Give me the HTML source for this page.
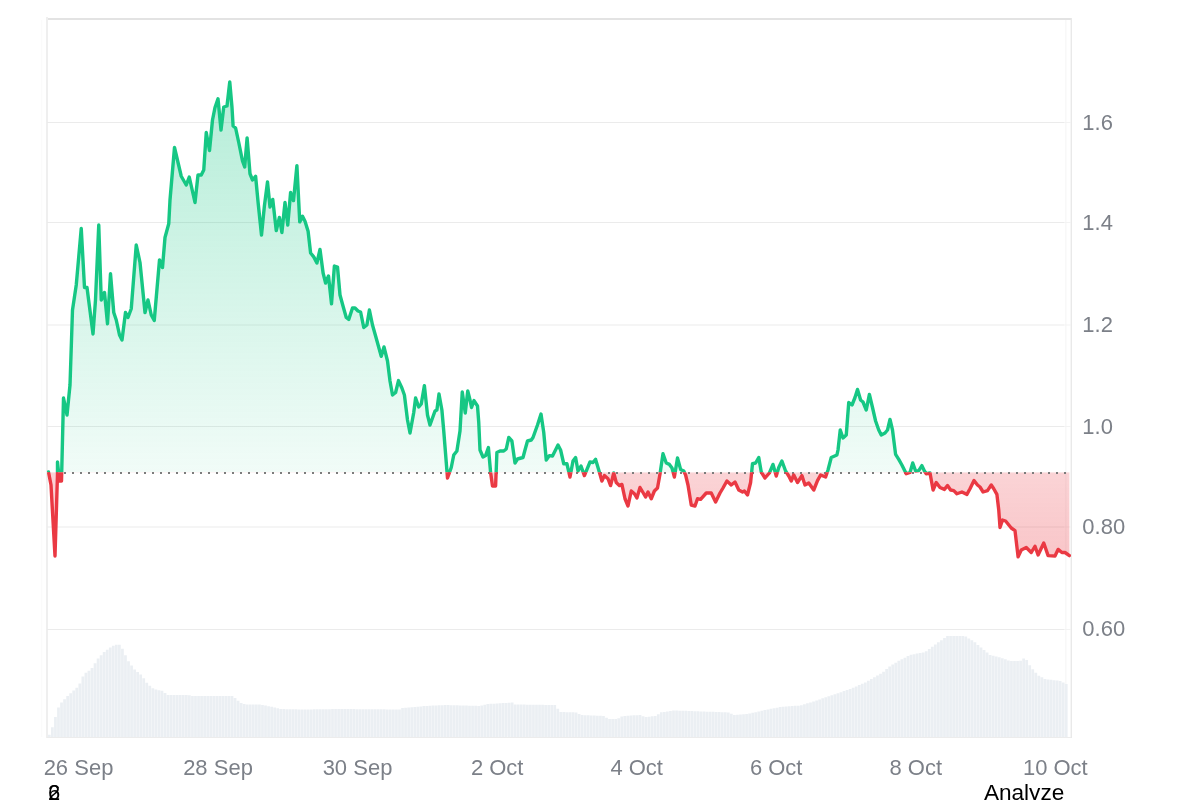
<!DOCTYPE html>
<html><head><meta charset="utf-8"><title>Price chart</title>
<style>
html,body{margin:0;padding:0;background:#fff;}
body{width:1200px;height:800px;overflow:hidden;position:relative;}
svg{display:block;position:absolute;left:0;top:0;}
text{font-family:"Liberation Sans",sans-serif;}
</style></head><body>
<div style="position:absolute;left:0;top:0;width:1200px;height:800px;will-change:transform">
<svg width="1200" height="800" viewBox="0 0 1200 800">
<defs>
<clipPath id="cA"><rect x="47" y="0" width="1024" height="472.2"/></clipPath>
<clipPath id="cB"><rect x="47" y="472.2" width="1024" height="327.8"/></clipPath>
<linearGradient id="gG" gradientUnits="userSpaceOnUse" x1="0" y1="82" x2="0" y2="472.2">
<stop offset="0" stop-color="#16c784" stop-opacity="0.32"/>
<stop offset="1" stop-color="#16c784" stop-opacity="0.06"/>
</linearGradient>
<linearGradient id="gR" gradientUnits="userSpaceOnUse" x1="0" y1="472.2" x2="0" y2="557">
<stop offset="0" stop-color="#ea3943" stop-opacity="0.22"/>
<stop offset="1" stop-color="#ea3943" stop-opacity="0.29"/>
</linearGradient>
</defs>

<rect x="48" y="18" width="1023" height="2" fill="#e3e3e3"/>
<rect x="46" y="17" width="2" height="721" fill="#efefef"/>
<rect x="1070.6" y="18" width="1.4" height="720" fill="#e9e9e9"/>
<rect x="47" y="737" width="1024" height="1" fill="#ececec"/>
<rect x="1065.2" y="20" width="1.3" height="717" fill="#f7f7f7"/>
<rect x="41" y="20" width="1.2" height="717" fill="#fbfbfb"/>
<path d="M47 122.5H1064" stroke="#ebebeb" stroke-width="1"/>
<path d="M1064 122.5H1071" stroke="#f3f3f3" stroke-width="1"/>
<path d="M47 222.5H1064" stroke="#ebebeb" stroke-width="1"/>
<path d="M1064 222.5H1071" stroke="#f3f3f3" stroke-width="1"/>
<path d="M47 325.0H1064" stroke="#ebebeb" stroke-width="1"/>
<path d="M1064 325.0H1071" stroke="#f3f3f3" stroke-width="1"/>
<path d="M47 426.5H1064" stroke="#ebebeb" stroke-width="1"/>
<path d="M1064 426.5H1071" stroke="#f3f3f3" stroke-width="1"/>
<path d="M47 527.0H1064" stroke="#ebebeb" stroke-width="1"/>
<path d="M1064 527.0H1071" stroke="#f3f3f3" stroke-width="1"/>
<path d="M47 629.5H1064" stroke="#ebebeb" stroke-width="1"/>
<path d="M1064 629.5H1071" stroke="#f3f3f3" stroke-width="1"/>
<path d="M48 734.8h2.7V737H48ZM51.04 727.18h2.7V737H51.04ZM54.09 717.04h2.7V737H54.09ZM57.13 707.44h2.7V737H57.13ZM60.18 702.59h2.7V737H60.18ZM63.22 699.27h2.7V737H63.22ZM66.27 696.12h2.7V737H66.27ZM69.31 693.35h2.7V737H69.31ZM72.36 690.56h2.7V737H72.36ZM75.4 687.75h2.7V737H75.4ZM78.45 683.38h2.7V737H78.45ZM81.49 676.42h2.7V737H81.49ZM84.54 672.68h2.7V737H84.54ZM87.58 670.65h2.7V737H87.58ZM90.63 668.08h2.7V737H90.63ZM93.67 663.21h2.7V737H93.67ZM96.71 658.56h2.7V737H96.71ZM99.76 655.31h2.7V737H99.76ZM102.8 652.06h2.7V737H102.8ZM105.85 649.63h2.7V737H105.85ZM108.89 647.6h2.7V737H108.89ZM111.94 645.8h2.7V737H111.94ZM114.98 644.82h2.7V737H114.98ZM118.03 644.64h2.7V737H118.03ZM121.07 648.7h2.7V737H121.07ZM124.12 655.2h2.7V737H124.12ZM127.16 661.24h2.7V737H127.16ZM130.21 665.62h2.7V737H130.21ZM133.25 669.56h2.7V737H133.25ZM136.29 672h2.7V737H136.29ZM139.34 674.43h2.7V737H139.34ZM142.38 678.36h2.7V737H142.38ZM145.43 682.75h2.7V737H145.43ZM148.47 685.74h2.7V737H148.47ZM151.52 688.17h2.7V737H151.52ZM154.56 689.46h2.7V737H154.56ZM157.61 690.16h2.7V737H157.61ZM160.65 690.85h2.7V737H160.65ZM163.7 692.92h2.7V737H163.7ZM166.74 695h2.7V737H166.74ZM169.79 695h2.7V737H169.79ZM172.83 695h2.7V737H172.83ZM175.88 695h2.7V737H175.88ZM178.92 695h2.7V737H178.92ZM181.96 695h2.7V737H181.96ZM185.01 695h2.7V737H185.01ZM188.05 695.35h2.7V737H188.05ZM191.1 695.96h2.7V737H191.1ZM194.14 696h2.7V737H194.14ZM197.19 696h2.7V737H197.19ZM200.23 696h2.7V737H200.23ZM203.28 696h2.7V737H203.28ZM206.32 696h2.7V737H206.32ZM209.37 696h2.7V737H209.37ZM212.41 696h2.7V737H212.41ZM215.46 696h2.7V737H215.46ZM218.5 696h2.7V737H218.5ZM221.54 696h2.7V737H221.54ZM224.59 696h2.7V737H224.59ZM227.63 696h2.7V737H227.63ZM230.68 696h2.7V737H230.68ZM233.72 698.1h2.7V737H233.72ZM236.77 700.74h2.7V737H236.77ZM239.81 702.91h2.7V737H239.81ZM242.86 704.12h2.7V737H242.86ZM245.9 704.5h2.7V737H245.9ZM248.95 704.5h2.7V737H248.95ZM251.99 704.5h2.7V737H251.99ZM255.04 704.5h2.7V737H255.04ZM258.08 704.5h2.7V737H258.08ZM261.13 704.97h2.7V737H261.13ZM264.17 705.57h2.7V737H264.17ZM267.21 706.18h2.7V737H267.21ZM270.26 706.79h2.7V737H270.26ZM273.3 707.4h2.7V737H273.3ZM276.35 708.26h2.7V737H276.35ZM279.39 709.01h2.7V737H279.39ZM282.44 709.07h2.7V737H282.44ZM285.48 709.13h2.7V737H285.48ZM288.53 709.19h2.7V737H288.53ZM291.57 709.26h2.7V737H291.57ZM294.62 709.32h2.7V737H294.62ZM297.66 709.38h2.7V737H297.66ZM300.71 709.44h2.7V737H300.71ZM303.75 709.5h2.7V737H303.75ZM306.79 709.46h2.7V737H306.79ZM309.84 709.41h2.7V737H309.84ZM312.88 709.37h2.7V737H312.88ZM315.93 709.33h2.7V737H315.93ZM318.97 709.28h2.7V737H318.97ZM322.02 709.24h2.7V737H322.02ZM325.06 709.2h2.7V737H325.06ZM328.11 709.15h2.7V737H328.11ZM331.15 709.11h2.7V737H331.15ZM334.2 709.07h2.7V737H334.2ZM337.24 709.02h2.7V737H337.24ZM340.29 709.01h2.7V737H340.29ZM343.33 709.04h2.7V737H343.33ZM346.37 709.06h2.7V737H346.37ZM349.42 709.09h2.7V737H349.42ZM352.46 709.11h2.7V737H352.46ZM355.51 709.14h2.7V737H355.51ZM358.55 709.16h2.7V737H358.55ZM361.6 709.19h2.7V737H361.6ZM364.64 709.22h2.7V737H364.64ZM367.69 709.24h2.7V737H367.69ZM370.73 709.27h2.7V737H370.73ZM373.78 709.29h2.7V737H373.78ZM376.82 709.32h2.7V737H376.82ZM379.87 709.34h2.7V737H379.87ZM382.91 709.37h2.7V737H382.91ZM385.96 709.39h2.7V737H385.96ZM389 709.42h2.7V737H389ZM392.04 709.44h2.7V737H392.04ZM395.09 709.47h2.7V737H395.09ZM398.13 709.49h2.7V737H398.13ZM401.18 708.07h2.7V737H401.18ZM404.22 707.74h2.7V737H404.22ZM407.27 707.47h2.7V737H407.27ZM410.31 707.2h2.7V737H410.31ZM413.36 706.93h2.7V737H413.36ZM416.4 706.66h2.7V737H416.4ZM419.45 706.39h2.7V737H419.45ZM422.49 706.12h2.7V737H422.49ZM425.54 705.91h2.7V737H425.54ZM428.58 705.76h2.7V737H428.58ZM431.62 705.61h2.7V737H431.62ZM434.67 705.46h2.7V737H434.67ZM437.71 705.3h2.7V737H437.71ZM440.76 705.15h2.7V737H440.76ZM443.8 705h2.7V737H443.8ZM446.85 705.09h2.7V737H446.85ZM449.89 705.17h2.7V737H449.89ZM452.94 705.26h2.7V737H452.94ZM455.98 705.35h2.7V737H455.98ZM459.03 705.44h2.7V737H459.03ZM462.07 705.52h2.7V737H462.07ZM465.12 705.61h2.7V737H465.12ZM468.16 705.7h2.7V737H468.16ZM471.21 705.78h2.7V737H471.21ZM474.25 705.87h2.7V737H474.25ZM477.29 705.96h2.7V737H477.29ZM480.34 705.59h2.7V737H480.34ZM483.38 704.78h2.7V737H483.38ZM486.43 703.99h2.7V737H486.43ZM489.47 703.81h2.7V737H489.47ZM492.52 703.63h2.7V737H492.52ZM495.56 703.44h2.7V737H495.56ZM498.61 703.26h2.7V737H498.61ZM501.65 703.08h2.7V737H501.65ZM504.7 702.9h2.7V737H504.7ZM507.74 702.71h2.7V737H507.74ZM510.79 702.53h2.7V737H510.79ZM513.83 704.5h2.7V737H513.83ZM516.87 704.54h2.7V737H516.87ZM519.92 704.58h2.7V737H519.92ZM522.96 704.61h2.7V737H522.96ZM526.01 704.65h2.7V737H526.01ZM529.05 704.69h2.7V737H529.05ZM532.1 704.73h2.7V737H532.1ZM535.14 704.77h2.7V737H535.14ZM538.19 704.8h2.7V737H538.19ZM541.23 704.84h2.7V737H541.23ZM544.28 704.88h2.7V737H544.28ZM547.32 704.92h2.7V737H547.32ZM550.37 704.96h2.7V737H550.37ZM553.41 705h2.7V737H553.41ZM556.46 708.72h2.7V737H556.46ZM559.5 712.02h2.7V737H559.5ZM562.54 712.11h2.7V737H562.54ZM565.59 712.19h2.7V737H565.59ZM568.63 712.28h2.7V737H568.63ZM571.68 712.37h2.7V737H571.68ZM574.72 712.45h2.7V737H574.72ZM577.77 713.97h2.7V737H577.77ZM580.81 715.08h2.7V737H580.81ZM583.86 715.2h2.7V737H583.86ZM586.9 715.32h2.7V737H586.9ZM589.95 715.45h2.7V737H589.95ZM592.99 715.57h2.7V737H592.99ZM596.04 715.69h2.7V737H596.04ZM599.08 715.81h2.7V737H599.08ZM602.12 715.93h2.7V737H602.12ZM605.17 717.64h2.7V737H605.17ZM608.21 719h2.7V737H608.21ZM611.26 719h2.7V737H611.26ZM614.3 719h2.7V737H614.3ZM617.35 718.37h2.7V737H617.35ZM620.39 716.54h2.7V737H620.39ZM623.44 715.88h2.7V737H623.44ZM626.48 715.7h2.7V737H626.48ZM629.53 715.53h2.7V737H629.53ZM632.57 715.36h2.7V737H632.57ZM635.62 715.18h2.7V737H635.62ZM638.66 715.01h2.7V737H638.66ZM641.71 716.16h2.7V737H641.71ZM644.75 716.91h2.7V737H644.75ZM647.79 716.64h2.7V737H647.79ZM650.84 716.36h2.7V737H650.84ZM653.88 716.08h2.7V737H653.88ZM656.93 714.14h2.7V737H656.93ZM659.97 712.33h2.7V737H659.97ZM663.02 711.89h2.7V737H663.02ZM666.06 711.44h2.7V737H666.06ZM669.11 711h2.7V737H669.11ZM672.15 710.56h2.7V737H672.15ZM675.2 710.58h2.7V737H675.2ZM678.24 710.68h2.7V737H678.24ZM681.29 710.77h2.7V737H681.29ZM684.33 710.86h2.7V737H684.33ZM687.38 710.96h2.7V737H687.38ZM690.42 711.06h2.7V737H690.42ZM693.46 711.17h2.7V737H693.46ZM696.51 711.29h2.7V737H696.51ZM699.55 711.4h2.7V737H699.55ZM702.6 711.52h2.7V737H702.6ZM705.64 711.63h2.7V737H705.64ZM708.69 711.75h2.7V737H708.69ZM711.73 711.86h2.7V737H711.73ZM714.78 711.97h2.7V737H714.78ZM717.82 712.09h2.7V737H717.82ZM720.87 712.2h2.7V737H720.87ZM723.91 712.32h2.7V737H723.91ZM726.96 712.43h2.7V737H726.96ZM730 713.7h2.7V737H730ZM733.04 714.88h2.7V737H733.04ZM736.09 714.68h2.7V737H736.09ZM739.13 714.48h2.7V737H739.13ZM742.18 714.27h2.7V737H742.18ZM745.22 714.07h2.7V737H745.22ZM748.27 713.55h2.7V737H748.27ZM751.31 712.85h2.7V737H751.31ZM754.36 712.16h2.7V737H754.36ZM757.4 711.46h2.7V737H757.4ZM760.45 710.77h2.7V737H760.45ZM763.49 710.07h2.7V737H763.49ZM766.54 709.45h2.7V737H766.54ZM769.58 708.84h2.7V737H769.58ZM772.63 708.23h2.7V737H772.63ZM775.67 707.63h2.7V737H775.67ZM778.71 707.02h2.7V737H778.71ZM781.76 706.78h2.7V737H781.76ZM784.8 706.55h2.7V737H784.8ZM787.85 706.32h2.7V737H787.85ZM790.89 706.09h2.7V737H790.89ZM793.94 705.86h2.7V737H793.94ZM796.98 705.64h2.7V737H796.98ZM800.03 705.13h2.7V737H800.03ZM803.07 704.22h2.7V737H803.07ZM806.12 703.31h2.7V737H806.12ZM809.16 702.39h2.7V737H809.16ZM812.21 701.48h2.7V737H812.21ZM815.25 700.48h2.7V737H815.25ZM818.29 699.38h2.7V737H818.29ZM821.34 698.29h2.7V737H821.34ZM824.38 697.19h2.7V737H824.38ZM827.43 696.14h2.7V737H827.43ZM830.47 695.16h2.7V737H830.47ZM833.52 694.19h2.7V737H833.52ZM836.56 693.22h2.7V737H836.56ZM839.61 692.21h2.7V737H839.61ZM842.65 691.11h2.7V737H842.65ZM845.7 690.02h2.7V737H845.7ZM848.74 688.92h2.7V737H848.74ZM851.79 687.79h2.7V737H851.79ZM854.83 686.45h2.7V737H854.83ZM857.88 685.11h2.7V737H857.88ZM860.92 683.77h2.7V737H860.92ZM863.96 682.41h2.7V737H863.96ZM867.01 680.67h2.7V737H867.01ZM870.05 678.93h2.7V737H870.05ZM873.1 677.19h2.7V737H873.1ZM876.14 675.45h2.7V737H876.14ZM879.19 673.71h2.7V737H879.19ZM882.23 671.69h2.7V737H882.23ZM885.28 669.05h2.7V737H885.28ZM888.32 666.41h2.7V737H888.32ZM891.37 664.46h2.7V737H891.37ZM894.41 662.63h2.7V737H894.41ZM897.46 660.81h2.7V737H897.46ZM900.5 659.15h2.7V737H900.5ZM903.54 657.63h2.7V737H903.54ZM906.59 656.11h2.7V737H906.59ZM909.63 654.83h2.7V737H909.63ZM912.68 654.22h2.7V737H912.68ZM915.72 653.62h2.7V737H915.72ZM918.77 653.01h2.7V737H918.77ZM921.81 652.4h2.7V737H921.81ZM924.86 651.22h2.7V737H924.86ZM927.9 648.99h2.7V737H927.9ZM930.95 646.76h2.7V737H930.95ZM933.99 644.53h2.7V737H933.99ZM937.04 642.29h2.7V737H937.04ZM940.08 640.15h2.7V737H940.08ZM943.13 638.12h2.7V737H943.13ZM946.17 636.09h2.7V737H946.17ZM949.21 636h2.7V737H949.21ZM952.26 636h2.7V737H952.26ZM955.3 636h2.7V737H955.3ZM958.35 636h2.7V737H958.35ZM961.39 636h2.7V737H961.39ZM964.44 636.41h2.7V737H964.44ZM967.48 638.39h2.7V737H967.48ZM970.53 640.37h2.7V737H970.53ZM973.57 642.35h2.7V737H973.57ZM976.62 644.89h2.7V737H976.62ZM979.66 647.48h2.7V737H979.66ZM982.71 650.07h2.7V737H982.71ZM985.75 652.56h2.7V737H985.75ZM988.79 655h2.7V737H988.79ZM991.84 655.76h2.7V737H991.84ZM994.88 656.52h2.7V737H994.88ZM997.93 657.28h2.7V737H997.93ZM1000.97 658.26h2.7V737H1000.97ZM1004.02 659.33h2.7V737H1004.02ZM1007.06 660.39h2.7V737H1007.06ZM1010.11 661h2.7V737H1010.11ZM1013.15 661h2.7V737H1013.15ZM1016.2 661h2.7V737H1016.2ZM1019.24 660.69h2.7V737H1019.24ZM1022.29 658.56h2.7V737H1022.29ZM1025.33 660.1h2.7V737H1025.33ZM1028.38 665.28h2.7V737H1028.38ZM1031.42 669.14h2.7V737H1031.42ZM1034.46 672.8h2.7V737H1034.46ZM1037.51 675.64h2.7V737H1037.51ZM1040.55 677.27h2.7V737H1040.55ZM1043.6 678.89h2.7V737H1043.6ZM1046.64 679.38h2.7V737H1046.64ZM1049.69 679.79h2.7V737H1049.69ZM1052.73 680.19h2.7V737H1052.73ZM1055.78 680.6h2.7V737H1055.78ZM1058.82 681.01h2.7V737H1058.82ZM1061.87 682.53h2.7V737H1061.87ZM1064.91 684.06h2.7V737H1064.91Z" fill="#ebeff3"/>
<path d="M48.5 472 L51 485 L55 556 L57.5 474 L57.5 462 L59.5 481 L61.5 481 L63.5 398 L67 415 L70 385 L71.5 340 L72.5 310 L76.25 285 L81.25 228.5 L84.5 287.5 L87 287.5 L93 334 L95.5 300 L98.75 225 L101.25 300 L104.5 292.5 L107.5 323.75 L110.5 273.75 L113.75 312.5 L116.25 320 L119.5 335 L122 340 L125.5 312.5 L128 317.5 L131.25 308.75 L136.25 245 L140 262.5 L145 312.5 L148 300 L151.25 315 L154.25 320.5 L159.5 260 L162.5 267.5 L165 237.5 L168.75 223.75 L170 200 L174.5 147.5 L181.25 176.25 L186.25 185 L189.25 177 L195 202.5 L198 175 L201.25 175 L203.75 170 L206.25 132.5 L209.5 150.5 L212.5 120 L215 107.5 L218 98.75 L221 130 L223.75 107 L227 106 L229.75 82 L232 107.5 L233.1 126 L235.6 128 L238.75 142.5 L242.5 161 L244.7 167 L247.1 138 L250 173.75 L252.5 180 L255.6 176.25 L258.1 202.5 L261.5 235 L264.4 206 L267.5 182 L270 207 L272.75 199.4 L276.25 230.6 L279.4 217.5 L281.9 232.5 L285 202.5 L287.75 225 L290.6 192.5 L293.5 200.6 L296.9 165.6 L299.75 221.9 L302.5 216.25 L305 221.25 L308.1 231.25 L310.6 253 L313.75 256.9 L316.9 263 L320 249.4 L323.1 273 L325.6 283 L328.5 276 L331.5 303.75 L334.4 266 L337.5 267 L340 295 L343 306 L346.25 317.5 L348.75 319.4 L352.5 308 L355 308 L358 311 L360.6 312 L363.75 327.5 L366.9 325 L369.4 310 L372.5 325 L375.6 336 L381.25 356.25 L384 347 L387.5 361 L390 381 L392.5 395 L395.6 392.5 L398.5 380.6 L401.9 388 L404.4 395 L407.5 420 L410 433 L413.75 412.5 L415.6 398 L418.75 407 L421.25 404 L424.4 385.6 L427.5 415 L430 425 L435 411 L436.9 410 L439 394 L441.9 410 L443.75 431 L447.5 478 L451.25 467.5 L453.75 455 L456.9 451 L460 431 L462.25 392 L465.25 413 L467.75 391 L470 400 L471.5 407.5 L474 400.6 L477.5 406 L478.75 422.5 L480 450 L483 457 L485.6 455.6 L488.4 447.5 L490.6 472.5 L492.5 486 L495.6 486 L496.9 452.5 L500 451 L503.75 451 L506.25 449 L508.75 437.5 L511.9 441 L515 463 L517.5 459 L523 457.5 L525 450 L527.5 441 L531.25 440 L533 437.5 L537.5 425 L541 414 L543.75 432.5 L546.25 460 L549.4 455.6 L552.5 456 L558 445 L560.6 450 L563.75 463.75 L566.9 463.75 L570 477 L573 461 L575.6 457.5 L578 471 L581 466 L584.4 475.6 L590 462 L593 462.5 L595.6 459.4 L598.75 470 L601.9 481 L604.4 475.6 L608 478.75 L610.6 485.6 L613.75 473 L616.25 482.5 L619.4 485.6 L621.9 484.4 L625 498.75 L628 506 L631.25 491 L634.4 493.75 L636.9 498 L640 487.5 L643 492.5 L645.6 497 L648 492 L651.25 498.75 L654.4 491 L657.5 488 L660 474 L663 453.75 L666.25 463 L669.4 464.4 L672 468 L674.4 477 L677.5 458 L680.6 469.4 L683.75 471 L685.6 475 L688 485 L691.25 505 L695 506 L697.5 498.75 L700.6 499.4 L706.25 493 L711.25 493 L715.6 502 L720 493 L723 488 L726.9 481 L731.25 485 L735 482 L738.75 490 L742.5 492 L744.4 491 L747.5 495 L750.6 482.5 L752.5 463.75 L755.6 463 L758.75 457.5 L761.25 472 L765 478 L769.4 473 L773 464.4 L776.25 476 L778.75 467.5 L781.9 461 L785.6 471 L788.75 476 L791.25 481 L793.75 475 L797.5 482.5 L801.9 475.6 L805 485 L808.75 483 L813.75 490 L817.5 480.6 L820.6 475 L825.6 477 L828 470 L831.25 457.5 L836.9 455 L838 450 L840.25 430 L843 438 L846.25 435 L848.75 402.5 L852 405 L855 397.5 L857.5 389.4 L860.6 400 L863 402 L866.25 410 L869.4 394.4 L872.5 407.5 L875.6 421 L878.75 430 L881.25 435 L885 433 L887.5 430 L890 419.4 L892.5 430 L895.6 454.4 L898.75 459.4 L901.9 465 L906.25 473.75 L910 472.5 L912.75 463 L915.6 471 L918.75 470.6 L921.9 465.6 L924.4 471 L926.25 473.75 L930 473 L933.1 490 L936.25 482.5 L940 487.5 L944.4 489.4 L947.5 485.6 L950.6 490 L953.75 490.6 L956.9 493.75 L961.9 492 L966.9 494.4 L970 488.75 L974 480.6 L977.5 485 L980 487 L983.1 492 L987.5 490.6 L991.25 485 L993.75 488.75 L996.9 494.4 L998.75 510 L1000 527.5 L1002.5 520 L1005.6 521 L1011.25 528 L1015 530.6 L1018.1 556.9 L1021.25 550 L1026.25 547.5 L1031.25 552.5 L1035 546.25 L1038.1 555 L1043.75 543 L1048.1 555.6 L1055 556 L1058.1 549.4 L1061.9 552.5 L1065 552.5 L1069.4 555.6 L1069.4 472.2 L48.5 472.2 Z" fill="url(#gG)" clip-path="url(#cA)"/>
<path d="M48.5 472 L51 485 L55 556 L57.5 474 L57.5 462 L59.5 481 L61.5 481 L63.5 398 L67 415 L70 385 L71.5 340 L72.5 310 L76.25 285 L81.25 228.5 L84.5 287.5 L87 287.5 L93 334 L95.5 300 L98.75 225 L101.25 300 L104.5 292.5 L107.5 323.75 L110.5 273.75 L113.75 312.5 L116.25 320 L119.5 335 L122 340 L125.5 312.5 L128 317.5 L131.25 308.75 L136.25 245 L140 262.5 L145 312.5 L148 300 L151.25 315 L154.25 320.5 L159.5 260 L162.5 267.5 L165 237.5 L168.75 223.75 L170 200 L174.5 147.5 L181.25 176.25 L186.25 185 L189.25 177 L195 202.5 L198 175 L201.25 175 L203.75 170 L206.25 132.5 L209.5 150.5 L212.5 120 L215 107.5 L218 98.75 L221 130 L223.75 107 L227 106 L229.75 82 L232 107.5 L233.1 126 L235.6 128 L238.75 142.5 L242.5 161 L244.7 167 L247.1 138 L250 173.75 L252.5 180 L255.6 176.25 L258.1 202.5 L261.5 235 L264.4 206 L267.5 182 L270 207 L272.75 199.4 L276.25 230.6 L279.4 217.5 L281.9 232.5 L285 202.5 L287.75 225 L290.6 192.5 L293.5 200.6 L296.9 165.6 L299.75 221.9 L302.5 216.25 L305 221.25 L308.1 231.25 L310.6 253 L313.75 256.9 L316.9 263 L320 249.4 L323.1 273 L325.6 283 L328.5 276 L331.5 303.75 L334.4 266 L337.5 267 L340 295 L343 306 L346.25 317.5 L348.75 319.4 L352.5 308 L355 308 L358 311 L360.6 312 L363.75 327.5 L366.9 325 L369.4 310 L372.5 325 L375.6 336 L381.25 356.25 L384 347 L387.5 361 L390 381 L392.5 395 L395.6 392.5 L398.5 380.6 L401.9 388 L404.4 395 L407.5 420 L410 433 L413.75 412.5 L415.6 398 L418.75 407 L421.25 404 L424.4 385.6 L427.5 415 L430 425 L435 411 L436.9 410 L439 394 L441.9 410 L443.75 431 L447.5 478 L451.25 467.5 L453.75 455 L456.9 451 L460 431 L462.25 392 L465.25 413 L467.75 391 L470 400 L471.5 407.5 L474 400.6 L477.5 406 L478.75 422.5 L480 450 L483 457 L485.6 455.6 L488.4 447.5 L490.6 472.5 L492.5 486 L495.6 486 L496.9 452.5 L500 451 L503.75 451 L506.25 449 L508.75 437.5 L511.9 441 L515 463 L517.5 459 L523 457.5 L525 450 L527.5 441 L531.25 440 L533 437.5 L537.5 425 L541 414 L543.75 432.5 L546.25 460 L549.4 455.6 L552.5 456 L558 445 L560.6 450 L563.75 463.75 L566.9 463.75 L570 477 L573 461 L575.6 457.5 L578 471 L581 466 L584.4 475.6 L590 462 L593 462.5 L595.6 459.4 L598.75 470 L601.9 481 L604.4 475.6 L608 478.75 L610.6 485.6 L613.75 473 L616.25 482.5 L619.4 485.6 L621.9 484.4 L625 498.75 L628 506 L631.25 491 L634.4 493.75 L636.9 498 L640 487.5 L643 492.5 L645.6 497 L648 492 L651.25 498.75 L654.4 491 L657.5 488 L660 474 L663 453.75 L666.25 463 L669.4 464.4 L672 468 L674.4 477 L677.5 458 L680.6 469.4 L683.75 471 L685.6 475 L688 485 L691.25 505 L695 506 L697.5 498.75 L700.6 499.4 L706.25 493 L711.25 493 L715.6 502 L720 493 L723 488 L726.9 481 L731.25 485 L735 482 L738.75 490 L742.5 492 L744.4 491 L747.5 495 L750.6 482.5 L752.5 463.75 L755.6 463 L758.75 457.5 L761.25 472 L765 478 L769.4 473 L773 464.4 L776.25 476 L778.75 467.5 L781.9 461 L785.6 471 L788.75 476 L791.25 481 L793.75 475 L797.5 482.5 L801.9 475.6 L805 485 L808.75 483 L813.75 490 L817.5 480.6 L820.6 475 L825.6 477 L828 470 L831.25 457.5 L836.9 455 L838 450 L840.25 430 L843 438 L846.25 435 L848.75 402.5 L852 405 L855 397.5 L857.5 389.4 L860.6 400 L863 402 L866.25 410 L869.4 394.4 L872.5 407.5 L875.6 421 L878.75 430 L881.25 435 L885 433 L887.5 430 L890 419.4 L892.5 430 L895.6 454.4 L898.75 459.4 L901.9 465 L906.25 473.75 L910 472.5 L912.75 463 L915.6 471 L918.75 470.6 L921.9 465.6 L924.4 471 L926.25 473.75 L930 473 L933.1 490 L936.25 482.5 L940 487.5 L944.4 489.4 L947.5 485.6 L950.6 490 L953.75 490.6 L956.9 493.75 L961.9 492 L966.9 494.4 L970 488.75 L974 480.6 L977.5 485 L980 487 L983.1 492 L987.5 490.6 L991.25 485 L993.75 488.75 L996.9 494.4 L998.75 510 L1000 527.5 L1002.5 520 L1005.6 521 L1011.25 528 L1015 530.6 L1018.1 556.9 L1021.25 550 L1026.25 547.5 L1031.25 552.5 L1035 546.25 L1038.1 555 L1043.75 543 L1048.1 555.6 L1055 556 L1058.1 549.4 L1061.9 552.5 L1065 552.5 L1069.4 555.6 L1069.4 472.2 L48.5 472.2 Z" fill="url(#gR)" clip-path="url(#cB)"/>
<path d="M48 473H1070" stroke="#7c7c7c" stroke-width="2" stroke-dasharray="2 6"/>
<path d="M48.5 472 L51 485 L55 556 L57.5 474 L57.5 462 L59.5 481 L61.5 481 L63.5 398 L67 415 L70 385 L71.5 340 L72.5 310 L76.25 285 L81.25 228.5 L84.5 287.5 L87 287.5 L93 334 L95.5 300 L98.75 225 L101.25 300 L104.5 292.5 L107.5 323.75 L110.5 273.75 L113.75 312.5 L116.25 320 L119.5 335 L122 340 L125.5 312.5 L128 317.5 L131.25 308.75 L136.25 245 L140 262.5 L145 312.5 L148 300 L151.25 315 L154.25 320.5 L159.5 260 L162.5 267.5 L165 237.5 L168.75 223.75 L170 200 L174.5 147.5 L181.25 176.25 L186.25 185 L189.25 177 L195 202.5 L198 175 L201.25 175 L203.75 170 L206.25 132.5 L209.5 150.5 L212.5 120 L215 107.5 L218 98.75 L221 130 L223.75 107 L227 106 L229.75 82 L232 107.5 L233.1 126 L235.6 128 L238.75 142.5 L242.5 161 L244.7 167 L247.1 138 L250 173.75 L252.5 180 L255.6 176.25 L258.1 202.5 L261.5 235 L264.4 206 L267.5 182 L270 207 L272.75 199.4 L276.25 230.6 L279.4 217.5 L281.9 232.5 L285 202.5 L287.75 225 L290.6 192.5 L293.5 200.6 L296.9 165.6 L299.75 221.9 L302.5 216.25 L305 221.25 L308.1 231.25 L310.6 253 L313.75 256.9 L316.9 263 L320 249.4 L323.1 273 L325.6 283 L328.5 276 L331.5 303.75 L334.4 266 L337.5 267 L340 295 L343 306 L346.25 317.5 L348.75 319.4 L352.5 308 L355 308 L358 311 L360.6 312 L363.75 327.5 L366.9 325 L369.4 310 L372.5 325 L375.6 336 L381.25 356.25 L384 347 L387.5 361 L390 381 L392.5 395 L395.6 392.5 L398.5 380.6 L401.9 388 L404.4 395 L407.5 420 L410 433 L413.75 412.5 L415.6 398 L418.75 407 L421.25 404 L424.4 385.6 L427.5 415 L430 425 L435 411 L436.9 410 L439 394 L441.9 410 L443.75 431 L447.5 478 L451.25 467.5 L453.75 455 L456.9 451 L460 431 L462.25 392 L465.25 413 L467.75 391 L470 400 L471.5 407.5 L474 400.6 L477.5 406 L478.75 422.5 L480 450 L483 457 L485.6 455.6 L488.4 447.5 L490.6 472.5 L492.5 486 L495.6 486 L496.9 452.5 L500 451 L503.75 451 L506.25 449 L508.75 437.5 L511.9 441 L515 463 L517.5 459 L523 457.5 L525 450 L527.5 441 L531.25 440 L533 437.5 L537.5 425 L541 414 L543.75 432.5 L546.25 460 L549.4 455.6 L552.5 456 L558 445 L560.6 450 L563.75 463.75 L566.9 463.75 L570 477 L573 461 L575.6 457.5 L578 471 L581 466 L584.4 475.6 L590 462 L593 462.5 L595.6 459.4 L598.75 470 L601.9 481 L604.4 475.6 L608 478.75 L610.6 485.6 L613.75 473 L616.25 482.5 L619.4 485.6 L621.9 484.4 L625 498.75 L628 506 L631.25 491 L634.4 493.75 L636.9 498 L640 487.5 L643 492.5 L645.6 497 L648 492 L651.25 498.75 L654.4 491 L657.5 488 L660 474 L663 453.75 L666.25 463 L669.4 464.4 L672 468 L674.4 477 L677.5 458 L680.6 469.4 L683.75 471 L685.6 475 L688 485 L691.25 505 L695 506 L697.5 498.75 L700.6 499.4 L706.25 493 L711.25 493 L715.6 502 L720 493 L723 488 L726.9 481 L731.25 485 L735 482 L738.75 490 L742.5 492 L744.4 491 L747.5 495 L750.6 482.5 L752.5 463.75 L755.6 463 L758.75 457.5 L761.25 472 L765 478 L769.4 473 L773 464.4 L776.25 476 L778.75 467.5 L781.9 461 L785.6 471 L788.75 476 L791.25 481 L793.75 475 L797.5 482.5 L801.9 475.6 L805 485 L808.75 483 L813.75 490 L817.5 480.6 L820.6 475 L825.6 477 L828 470 L831.25 457.5 L836.9 455 L838 450 L840.25 430 L843 438 L846.25 435 L848.75 402.5 L852 405 L855 397.5 L857.5 389.4 L860.6 400 L863 402 L866.25 410 L869.4 394.4 L872.5 407.5 L875.6 421 L878.75 430 L881.25 435 L885 433 L887.5 430 L890 419.4 L892.5 430 L895.6 454.4 L898.75 459.4 L901.9 465 L906.25 473.75 L910 472.5 L912.75 463 L915.6 471 L918.75 470.6 L921.9 465.6 L924.4 471 L926.25 473.75 L930 473 L933.1 490 L936.25 482.5 L940 487.5 L944.4 489.4 L947.5 485.6 L950.6 490 L953.75 490.6 L956.9 493.75 L961.9 492 L966.9 494.4 L970 488.75 L974 480.6 L977.5 485 L980 487 L983.1 492 L987.5 490.6 L991.25 485 L993.75 488.75 L996.9 494.4 L998.75 510 L1000 527.5 L1002.5 520 L1005.6 521 L1011.25 528 L1015 530.6 L1018.1 556.9 L1021.25 550 L1026.25 547.5 L1031.25 552.5 L1035 546.25 L1038.1 555 L1043.75 543 L1048.1 555.6 L1055 556 L1058.1 549.4 L1061.9 552.5 L1065 552.5 L1069.4 555.6" fill="none" stroke="#16c784" stroke-width="3.4" stroke-linejoin="round" stroke-linecap="round" clip-path="url(#cA)"/>
<path d="M48.5 472 L51 485 L55 556 L57.5 474 L57.5 462 L59.5 481 L61.5 481 L63.5 398 L67 415 L70 385 L71.5 340 L72.5 310 L76.25 285 L81.25 228.5 L84.5 287.5 L87 287.5 L93 334 L95.5 300 L98.75 225 L101.25 300 L104.5 292.5 L107.5 323.75 L110.5 273.75 L113.75 312.5 L116.25 320 L119.5 335 L122 340 L125.5 312.5 L128 317.5 L131.25 308.75 L136.25 245 L140 262.5 L145 312.5 L148 300 L151.25 315 L154.25 320.5 L159.5 260 L162.5 267.5 L165 237.5 L168.75 223.75 L170 200 L174.5 147.5 L181.25 176.25 L186.25 185 L189.25 177 L195 202.5 L198 175 L201.25 175 L203.75 170 L206.25 132.5 L209.5 150.5 L212.5 120 L215 107.5 L218 98.75 L221 130 L223.75 107 L227 106 L229.75 82 L232 107.5 L233.1 126 L235.6 128 L238.75 142.5 L242.5 161 L244.7 167 L247.1 138 L250 173.75 L252.5 180 L255.6 176.25 L258.1 202.5 L261.5 235 L264.4 206 L267.5 182 L270 207 L272.75 199.4 L276.25 230.6 L279.4 217.5 L281.9 232.5 L285 202.5 L287.75 225 L290.6 192.5 L293.5 200.6 L296.9 165.6 L299.75 221.9 L302.5 216.25 L305 221.25 L308.1 231.25 L310.6 253 L313.75 256.9 L316.9 263 L320 249.4 L323.1 273 L325.6 283 L328.5 276 L331.5 303.75 L334.4 266 L337.5 267 L340 295 L343 306 L346.25 317.5 L348.75 319.4 L352.5 308 L355 308 L358 311 L360.6 312 L363.75 327.5 L366.9 325 L369.4 310 L372.5 325 L375.6 336 L381.25 356.25 L384 347 L387.5 361 L390 381 L392.5 395 L395.6 392.5 L398.5 380.6 L401.9 388 L404.4 395 L407.5 420 L410 433 L413.75 412.5 L415.6 398 L418.75 407 L421.25 404 L424.4 385.6 L427.5 415 L430 425 L435 411 L436.9 410 L439 394 L441.9 410 L443.75 431 L447.5 478 L451.25 467.5 L453.75 455 L456.9 451 L460 431 L462.25 392 L465.25 413 L467.75 391 L470 400 L471.5 407.5 L474 400.6 L477.5 406 L478.75 422.5 L480 450 L483 457 L485.6 455.6 L488.4 447.5 L490.6 472.5 L492.5 486 L495.6 486 L496.9 452.5 L500 451 L503.75 451 L506.25 449 L508.75 437.5 L511.9 441 L515 463 L517.5 459 L523 457.5 L525 450 L527.5 441 L531.25 440 L533 437.5 L537.5 425 L541 414 L543.75 432.5 L546.25 460 L549.4 455.6 L552.5 456 L558 445 L560.6 450 L563.75 463.75 L566.9 463.75 L570 477 L573 461 L575.6 457.5 L578 471 L581 466 L584.4 475.6 L590 462 L593 462.5 L595.6 459.4 L598.75 470 L601.9 481 L604.4 475.6 L608 478.75 L610.6 485.6 L613.75 473 L616.25 482.5 L619.4 485.6 L621.9 484.4 L625 498.75 L628 506 L631.25 491 L634.4 493.75 L636.9 498 L640 487.5 L643 492.5 L645.6 497 L648 492 L651.25 498.75 L654.4 491 L657.5 488 L660 474 L663 453.75 L666.25 463 L669.4 464.4 L672 468 L674.4 477 L677.5 458 L680.6 469.4 L683.75 471 L685.6 475 L688 485 L691.25 505 L695 506 L697.5 498.75 L700.6 499.4 L706.25 493 L711.25 493 L715.6 502 L720 493 L723 488 L726.9 481 L731.25 485 L735 482 L738.75 490 L742.5 492 L744.4 491 L747.5 495 L750.6 482.5 L752.5 463.75 L755.6 463 L758.75 457.5 L761.25 472 L765 478 L769.4 473 L773 464.4 L776.25 476 L778.75 467.5 L781.9 461 L785.6 471 L788.75 476 L791.25 481 L793.75 475 L797.5 482.5 L801.9 475.6 L805 485 L808.75 483 L813.75 490 L817.5 480.6 L820.6 475 L825.6 477 L828 470 L831.25 457.5 L836.9 455 L838 450 L840.25 430 L843 438 L846.25 435 L848.75 402.5 L852 405 L855 397.5 L857.5 389.4 L860.6 400 L863 402 L866.25 410 L869.4 394.4 L872.5 407.5 L875.6 421 L878.75 430 L881.25 435 L885 433 L887.5 430 L890 419.4 L892.5 430 L895.6 454.4 L898.75 459.4 L901.9 465 L906.25 473.75 L910 472.5 L912.75 463 L915.6 471 L918.75 470.6 L921.9 465.6 L924.4 471 L926.25 473.75 L930 473 L933.1 490 L936.25 482.5 L940 487.5 L944.4 489.4 L947.5 485.6 L950.6 490 L953.75 490.6 L956.9 493.75 L961.9 492 L966.9 494.4 L970 488.75 L974 480.6 L977.5 485 L980 487 L983.1 492 L987.5 490.6 L991.25 485 L993.75 488.75 L996.9 494.4 L998.75 510 L1000 527.5 L1002.5 520 L1005.6 521 L1011.25 528 L1015 530.6 L1018.1 556.9 L1021.25 550 L1026.25 547.5 L1031.25 552.5 L1035 546.25 L1038.1 555 L1043.75 543 L1048.1 555.6 L1055 556 L1058.1 549.4 L1061.9 552.5 L1065 552.5 L1069.4 555.6" fill="none" stroke="#ea3943" stroke-width="3.4" stroke-linejoin="round" stroke-linecap="round" clip-path="url(#cB)"/>
<text transform="translate(1082.3 129.7) scale(1 1.045)" font-size="22" fill="#7c8088">1.6</text>
<text transform="translate(1082.3 229.7) scale(1 1.045)" font-size="22" fill="#7c8088">1.4</text>
<text transform="translate(1082.3 331.7) scale(1 1.045)" font-size="22" fill="#7c8088">1.2</text>
<text transform="translate(1082.3 433.7) scale(1 1.045)" font-size="22" fill="#7c8088">1.0</text>
<text transform="translate(1082.3 533.7) scale(1 1.045)" font-size="22" fill="#7c8088">0.80</text>
<text transform="translate(1082.3 635.7) scale(1 1.045)" font-size="22" fill="#7c8088">0.60</text>
<text transform="translate(78.5 775.2) scale(1 1.045)" font-size="22" fill="#7c8088" text-anchor="middle">26 Sep</text>
<text transform="translate(218 775.2) scale(1 1.045)" font-size="22" fill="#7c8088" text-anchor="middle">28 Sep</text>
<text transform="translate(357.5 775.2) scale(1 1.045)" font-size="22" fill="#7c8088" text-anchor="middle">30 Sep</text>
<text transform="translate(497.2 775.2) scale(1 1.045)" font-size="22" fill="#7c8088" text-anchor="middle">2 Oct</text>
<text transform="translate(636.7 775.2) scale(1 1.045)" font-size="22" fill="#7c8088" text-anchor="middle">4 Oct</text>
<text transform="translate(776.2 775.2) scale(1 1.045)" font-size="22" fill="#7c8088" text-anchor="middle">6 Oct</text>
<text transform="translate(915.8 775.2) scale(1 1.045)" font-size="22" fill="#7c8088" text-anchor="middle">8 Oct</text>
<text transform="translate(1055.3 775.2) scale(1 1.045)" font-size="22" fill="#7c8088" text-anchor="middle">10 Oct</text>
<text x="47.9" y="800" font-size="22" fill="#000">2</text>
<text x="47.9" y="800" font-size="22" fill="#000">6</text>
<text x="983.9" y="800" font-size="22.6" fill="#000">Analyze</text>
</svg>
</div>
</body></html>
